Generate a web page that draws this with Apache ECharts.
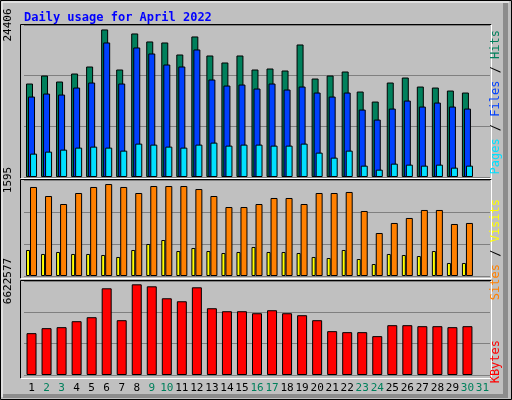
<!DOCTYPE html>
<html><head><meta charset="utf-8">
<script src="https://cdn.jsdelivr.net/npm/echarts@6/dist/echarts.min.js"></script>
<style>html,body{margin:0;padding:0;background:#c0c0c0}#c{width:512px;height:400px}</style>
</head><body><div id="c"></div>
<script>
const days = Array.from({length:31},(_,i)=>String(i+1));
const weekend = ['2','3','9','10','16','17','23','24','30','31'];
const hits = [15008,16294,15330,16616,17742,23691,17259,23048,21762,21601,19671,22566,19510,18385,19510,17259,17420,17098,21279,15812,16294,16938,13722,12114,15169,15973,14526,14365,13882,13561];
const files = [12918,13400,13239,14365,15169,21601,15008,20797,19832,18063,17742,20475,15651,14686,14847,14204,15008,14043,14526,13561,12918,13561,10827,9219,10988,12274,11310,11953,11310,10988];
const pages = [3752,4074,4395,4717,4878,4717,4234,5360,5199,4878,4717,5199,5521,5038,5199,5199,5038,5038,5360,3913,3109,4234,1822,1179,2144,1983,1822,1983,1501,1822];
const visits = [432,366,399,366,366,349,316,432,532,598,415,465,415,382,399,482,399,399,382,316,299,432,282,199,366,349,332,415,216,216];
const sites = [1479,1329,1196,1379,1479,1528,1479,1379,1495,1495,1495,1445,1329,1146,1146,1196,1296,1296,1196,1379,1379,1396,1080,714,881,964,1097,1097,864,881];
const kbytes = [2948526,3299541,3369744,3790962,4071774,6107661,3861165,6388473,6248067,5405631,5195022,6177864,4703601,4492992,4492992,4352586,4563195,4352586,4212180,3861165,3088932,3018729,3018729,2737917,3510150,3510150,3439947,3439947,3369744,3439947];
const maxes = [24406, 1595, 6622577];

const mono = 'DejaVu Sans Mono';
const grids = [
  {left:24, width:466, top:25, height:152},
  {left:24, width:466, top:180, height:96},
  {left:24, width:466, top:281, height:94}
];
function yAx(i){
  const m = maxes[i];
  return {type:'value', gridIndex:i, min:0, max:m, interval:m/3,
    axisLine:{show:false}, axisTick:{show:false},
    splitLine:{show:true, lineStyle:{color:'#808080', width:1}},
    axisLabel:{rotate:90, margin:10, fontFamily:mono, fontSize:11, color:'#000',
      formatter:v=> Math.abs(v-m)<1e-6 ? String(m) : ''}};
}
function xAx(i){
  return {type:'category', gridIndex:i, data:days,
    axisLine:{show:false}, axisTick:{show:false},
    axisLabel: i===2 ? {show:true, interval:0, margin:8, fontFamily:mono, fontSize:11,
      color:(v)=> weekend.includes(v)?'#00805c':'#000'} : {show:false}};
}
const bs = {borderColor:'#000', borderWidth:1};
function bar(name, data, gi, color, w, gap){
  const s = {type:'bar', name, data, xAxisIndex:gi, yAxisIndex:gi, barWidth:w,
    itemStyle:Object.assign({color}, bs), animation:false};
  if(gap!==undefined) s.barGap = gap;
  return s;
}
function line(pts, color){ return {type:'polyline', shape:{points:pts}, style:{stroke:color, lineWidth:1, fill:null}, silent:true}; }
function panel(x1,y1,x2,y2){
  return [line([[x1,y2],[x1,y1],[x2,y1]],'#000'), line([[x2,y1],[x2,y2],[x1,y2]],'#fff')];
}
function vtext(x, y, rich, parts){
  return {type:'text', x, y, rotation:Math.PI/2, silent:true,
    style:{text:parts, rich, font:'12px '+mono, align:'right', verticalAlign:'middle'}};
}
const chart = echarts.init(document.getElementById('c'), null, {renderer:'canvas'});
chart.setOption({
  backgroundColor:'#c0c0c0',
  animation:false,
  title:{text:'Daily usage for April 2022', left:19, top:7,
    textStyle:{fontFamily:mono, fontSize:12, fontWeight:'bold', color:'#0000ff'}},
  grid:grids,
  xAxis:[xAx(0),xAx(1),xAx(2)],
  yAxis:[yAx(0),yAx(1),yAx(2)],
  series:[
    bar('Hits',hits,0,'#00805c',7,'-71%'),
    bar('Files',files,0,'#0040ff',7,'-71%'),
    bar('Pages',pages,0,'#00e0ff',7,'-71%'),
    bar('Visits',visits,1,'#ffff00',4,'0%'),
    bar('Sites',sites,1,'#ff8000',7,'0%'),
    bar('KBytes',kbytes,2,'#ff0000',10)
  ],
  graphic:[
    {type:'rect', shape:{x:0.5,y:0.5,width:511,height:399}, style:{fill:null, stroke:'#000', lineWidth:1}, silent:true},
    line([[2,397],[2,2],[509,2]],'#fff'),
    {type:'rect', shape:{x:503,y:3,width:5,height:394}, style:{fill:'#8c8c8c'}, silent:true},
    {type:'rect', shape:{x:3,y:394,width:505,height:4}, style:{fill:'#8c8c8c'}, silent:true},
    ...panel(20.5,24.5,491.5,178.5),
    ...panel(20.5,179.5,491.5,278.5),
    ...panel(20.5,280.5,491.5,378.5),
    vtext(496, 30, {p:{fill:'#00e0ff'}, s:{fill:'#000'}, f:{fill:'#0040ff'}, h:{fill:'#00805c'}},
      '{p|Pages}{s| / }{f|Files}{s| / }{h|Hits}'),
    vtext(496, 199, {a:{fill:'#ff8000'}, s:{fill:'#000'}, b:{fill:'#ffff00'}},
      '{a|Sites}{s| / }{b|Visits}'),
    vtext(496, 340, {k:{fill:'#ff0000'}}, '{k|KBytes}')
  ]
});
</script></body></html>
